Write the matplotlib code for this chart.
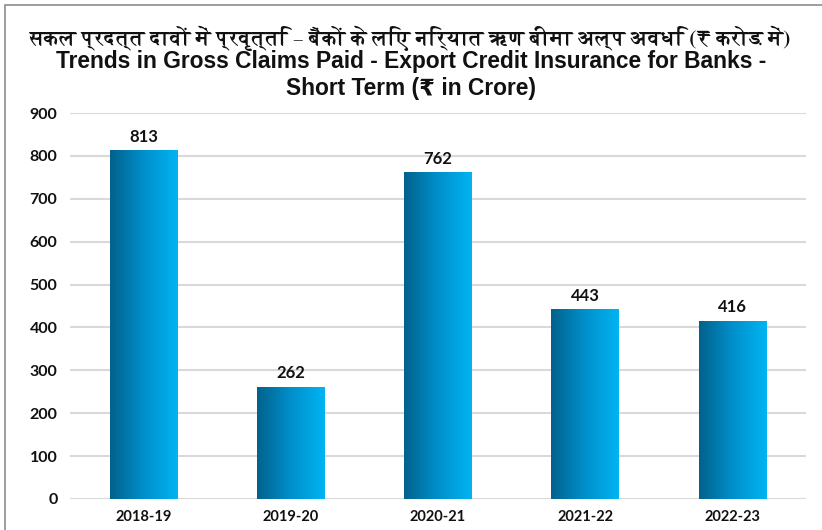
import matplotlib
matplotlib.use("Agg")
import matplotlib.pyplot as plt
import numpy as np
from matplotlib import font_manager
from matplotlib.ft2font import FT2Font
from matplotlib.colors import LinearSegmentedColormap
from matplotlib.patches import Rectangle

categories = ["2018-19", "2019-20", "2020-21", "2021-22", "2022-23"]
values = [813, 262, 762, 443, 416]
yticks = [0, 100, 200, 300, 400, 500, 600, 700, 800, 900]
title_hi = "सकल प्रदत्त दावों में प्रवृत्ति – बैंकों के लिए निर्यात ऋण बीमा अल्प अवधि (₹ करोड़ में)"
title_en = "Trends in Gross Claims Paid - Export Credit Insurance for Banks -\nShort Term (₹ in Crore)"


def find_family(ch, prefer_bold=False):
    best = None
    for f in font_manager.fontManager.ttflist:
        try:
            ft = FT2Font(f.fname)
            if ft.get_char_index(ord(ch)) != 0:
                if prefer_bold and f.weight in ("bold", 700):
                    return f.name
                if best is None:
                    best = f.name
        except Exception:
            pass
    return best


deva_family = find_family("क", prefer_bold=True)
rupee_family = find_family("₹")
hi_families = [f for f in [deva_family, rupee_family, "DejaVu Sans"] if f]
en_families = [f for f in ["Liberation Sans", rupee_family, deva_family, "DejaVu Sans"] if f]

fig = plt.figure(figsize=(8.22, 5.30), dpi=100)
fig.patch.set_facecolor("white")

# border (left/top visible)
fig.add_artist(Rectangle((5/822, -0.01), 1.2, 1.0 - 5/530 + 0.01, transform=fig.transFigure,
                         fill=False, edgecolor="#8c8c8c", linewidth=1.2))

ax = fig.add_axes([70/822, 1 - 499/530, 736/822, (499 - 113)/530])
x = np.arange(len(categories))
bars = ax.bar(x, values, width=0.46, color="none", zorder=3)

cmap = LinearSegmentedColormap.from_list("g", ["#03628c", "#0090cc", "#00b4f2"])
grad = np.linspace(0, 1, 256).reshape(1, -1)
for b in bars:
    x0, y0 = b.get_x(), b.get_y()
    w, h = b.get_width(), b.get_height()
    im = ax.imshow(grad, cmap=cmap, aspect="auto", extent=[x0, x0 + w, y0, y0 + h], zorder=3)
    im.set_clip_path(b)

for xi, v in zip(x, values):
    ax.text(xi, v + 12, str(v), ha="center", va="bottom", fontsize=12, fontweight="bold",
            family="Lato", color="#111111")

ax.set_xlim(-0.5, len(categories) - 0.5)
ax.set_ylim(0, 900)
ax.set_yticks(yticks)
ax.set_yticklabels([str(t) for t in yticks])
ax.set_xticks(x)
ax.set_xticklabels(categories)
for lab in ax.get_xticklabels():
    lab.set_fontfamily("Lato")
    lab.set_fontweight("bold")
    lab.set_fontsize(10.5)
    lab.set_color("#111111")
for lab in ax.get_yticklabels():
    lab.set_fontfamily("Lato")
    lab.set_fontweight("bold")
    lab.set_fontsize(11.5)
    lab.set_color("#111111")
ax.tick_params(axis="both", length=0)
ax.tick_params(axis="y", pad=9)
ax.tick_params(axis="x", pad=8)
ax.yaxis.grid(True, color="#d9d9d9", linewidth=1.5, zorder=0)
ax.set_axisbelow(True)
for s in ax.spines.values():
    s.set_visible(False)

t_hi = fig.text(0.5, 1 - 38/530, title_hi, ha="center", va="center", fontsize=15, fontweight="bold",
                family=hi_families, color="#111111")
t_en = fig.text(0.5, 1 - 75/530, title_en, ha="center", va="center", fontsize=16, fontweight="bold",
                family=en_families, linespacing=1.2, color="#111111")

# fit title widths to the reference
fig.canvas.draw()
r = fig.canvas.get_renderer()
w_hi = t_hi.get_window_extent(r).width
t_hi.set_fontsize(15 * 767 / w_hi)
w_en = t_en.get_window_extent(r).width
t_en.set_fontsize(min(16 * 712 / w_en, 17))

fig.savefig("out.png", dpi=100, facecolor="white")
